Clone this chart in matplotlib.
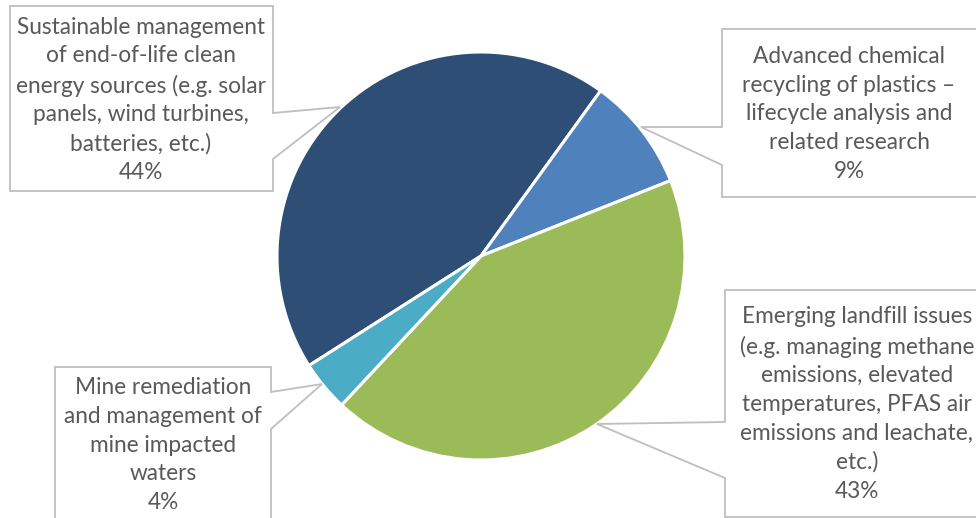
import matplotlib
matplotlib.use("Agg")
import matplotlib.pyplot as plt
from matplotlib.patches import Polygon

# data
categories = [
    "Sustainable management\nof end-of-life clean\nenergy sources (e.g. solar\npanels, wind turbines,\nbatteries, etc.)",
    "Advanced chemical\nrecycling of plastics \u2013\nlifecycle analysis and\nrelated research",
    "Emerging landfill issues\n(e.g. managing methane\nemissions, elevated\ntemperatures, PFAS air\nemissions and leachate,\netc.)",
    "Mine remediation\nand management of\nmine impacted\nwaters",
]
shares = [44, 9, 43, 4]
colors = ["#2E4E76", "#4F81BD", "#9BBB59", "#4BACC6"]

W, H = 976, 518

# callout boxes in pixel coords (y down), pointer tip included
boxes = [
    [(10, 6), (273, 6), (273, 113), (340, 107), (273, 159), (273, 191), (10, 191)],
    [(722, 29), (985, 29), (985, 197), (722, 197), (722, 165), (641, 127), (722, 127)],
    [(725, 290), (985, 290), (985, 517), (725, 517), (725, 478), (597, 424), (725, 422)],
    [(55, 367), (271, 367), (271, 392), (322, 384), (271, 429), (271, 530), (55, 530)],
]
text_pos = [(141, 100), (849, 114), (857, 404), (163, 445)]

fig = plt.figure(figsize=(W / 100, H / 100), dpi=100)
ax = fig.add_axes([0, 0, 1, 1])

ax.pie(shares, colors=colors, startangle=212.5, counterclock=False,
       center=(481, H - 256), radius=204, frame=True,
       wedgeprops=dict(edgecolor="white", linewidth=2.2))
ax.set_xlim(0, W)
ax.set_ylim(0, H)
ax.axis("off")

total = sum(shares)
for cat, v, box, (tx, ty) in zip(categories, shares, boxes, text_pos):
    pts = [(x, H - y) for x, y in box]
    ax.add_patch(Polygon(pts, closed=True, facecolor="white",
                         edgecolor="#BFBFBF", linewidth=1.3, zorder=3))
    label = f"{cat}\n{v / total * 100:.0f}%"
    ax.text(tx, H - ty, label, ha="center", va="center", fontsize=16.3,
            family="Lato", color="#595959", linespacing=1.45, zorder=4)

fig.savefig("out.png", dpi=100)
